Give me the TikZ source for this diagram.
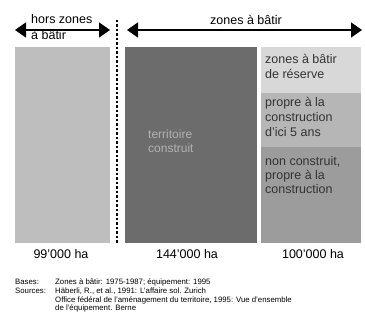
\documentclass[tikz,border=0pt]{standalone}
\usepackage{fontspec}
\setmainfont{Liberation Sans}
\usetikzlibrary{arrows.meta}
\definecolor{greyL}{HTML}{BEBEBE}
\definecolor{greyM}{HTML}{6C6C6C}
\definecolor{greyA}{HTML}{D8D8D8}
\definecolor{greyB}{HTML}{B6B6B6}
\definecolor{greyC}{HTML}{9C9C9C}
\tikzset{
  big/.style={font=\fontsize{12.5}{14}\selectfont, inner sep=0pt, anchor=base west},
  lab/.style={font=\fontsize{12.5}{14}\selectfont, inner sep=0pt, anchor=base},
  small/.style={font=\fontsize{7.8}{8.7}\selectfont, inner sep=0pt, anchor=base west, align=left},
  head/.style={line width=1.4pt, {Triangle[length=11pt,width=15pt]}-{Triangle[length=11pt,width=15pt]}}
}
\begin{document}
\begin{tikzpicture}[x=1pt,y=-1pt]
            \useasboundingbox (0,0) rectangle (365,320);
            % bars
            \fill [greyL] (15,47) rectangle (110,243);
            \fill [greyM] (125,47) rectangle (257,243);
            \fill [greyA] (261,47) rectangle (361,93);
            \fill [greyB] (261,93) rectangle (361,147);
            \fill [greyC] (261,147) rectangle (361,243);
            % separator
            \coordinate (S1) at (117,20);
            \coordinate (S2) at (117,244);
            \draw [line width=2.6pt, dash pattern=on 2.4pt off 2.1pt] (S1) -- (S2);
            % arrows
            \coordinate (HL) at (15,30);
            \coordinate (HR) at (110,30);
            \coordinate (ZL) at (127,30);
            \coordinate (ZR) at (362,30);
            \draw [head] (HL) -- (HR);
            \draw [head] (ZL) -- (ZR);
            \node [big] (H1) at (31,24) {hors zones};
            \node [big] (H2) at (31,40) {à bâtir};
            \node [big] (Z) at (210,25) {zones à bâtir};
            % texts in bars (placed at the last line)
            \node [big, text=black!30, align=left, font=\fontsize{12}{14}\selectfont] (T) at (148,153) {territoire\\construit};
            \node [big, text=black!80, align=left, font=\fontsize{12.5}{15}\selectfont] (R1) at (265,79) {zones à bâtir\\de réserve};
            \node [big, text=black!80, align=left, font=\fontsize{12.5}{15}\selectfont] (R2) at (265,137) {propre à la\\construction\\d'ici 5 ans};
            \node [big, text=black!80, align=left, font=\fontsize{12.5}{14}\selectfont] (R3) at (265,194) {non construit,\\propre à la\\construction};
            % areas
            \node [lab] (A) at (61,259) {99'000 ha};
            \node [lab] (B) at (187,259) {144'000 ha};
            \node [lab] (C) at (313,259) {100'000 ha};
            % sources
            \node [small] (K1) at (15,293.7) {Bases:\\Sources:};
            \node [small] (K2) at (55,311) {Zones à bâtir: 1975-1987; équipement: 1995\\Häberli, R., et al., 1991: L'affaire sol. Zurich\\Office fédéral de l'aménagement du territoire, 1995: Vue d'ensemble\\de l'équipement. Berne};
        \end{tikzpicture}
\end{document}
